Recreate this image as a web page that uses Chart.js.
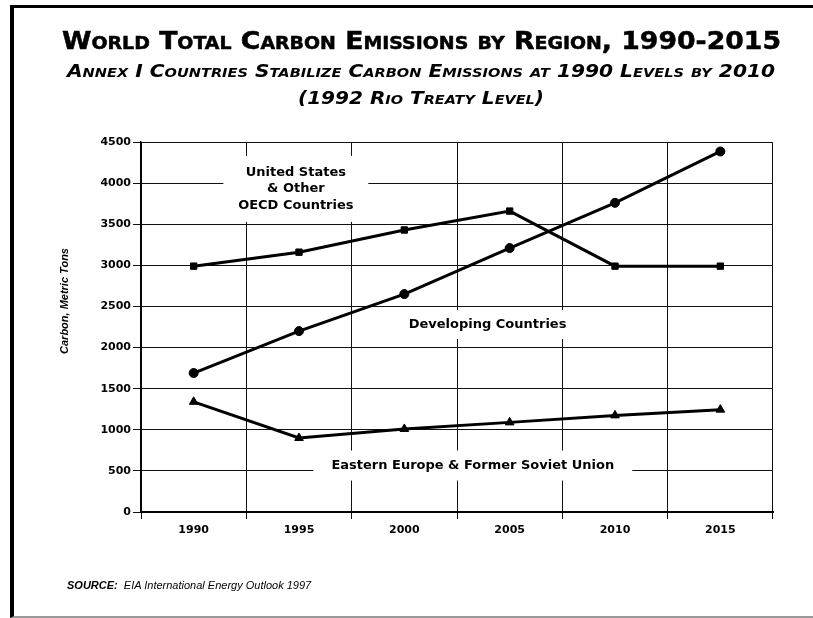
<!DOCTYPE html>
<html>
<head>
<meta charset="utf-8">
<script src="https://cdn.jsdelivr.net/npm/chart.js@4"></script>
<style>
    html, body { margin: 0; padding: 0; background: #fff; }
    #page { position: relative; width: 813px; height: 618px; overflow: hidden; }
    #frame {
        position: absolute; left: 10px; top: 5px; width: 860px; height: 608px;
        border-left: 4px solid #000; border-top: 3px solid #000; border-bottom: 2px solid #999;
    }
    #chartBox { position: absolute; left: 0; top: 0; width: 813px; height: 618px; }
    .txt {
        position: absolute; white-space: nowrap; color: #000; line-height: 1;
        transform-origin: left top;
    }
    #title { font: bold 24px 'DejaVu Sans', sans-serif; font-variant: small-caps; -webkit-text-stroke: 0.5px #000; }
    .sub { font: italic bold 18px 'DejaVu Sans', sans-serif; font-variant: small-caps; }
    #source { font: italic 11px 'Liberation Sans', Arial, sans-serif; left: 67px; top: 579px; }
    #source b { font-weight: bold; }
</style>
</head>
<body>
<div id="page">
    <div id="frame"></div>
    <div id="chartBox"><canvas id="grafico-carbono"></canvas></div>
    <div class="txt" id="title" data-w="719" data-base="47">World Total Carbon Emissions by Region, 1990-2015</div>
    <div class="txt sub" id="sub1" data-w="708" data-base="75">Annex I Countries Stabilize Carbon Emissions at 1990 Levels by 2010</div>
    <div class="txt sub" id="sub2" data-w="246" data-base="102">(1992 Rio Treaty Level)</div>
    <div class="txt" id="source"><b>SOURCE:</b>&nbsp; EIA International Energy Outlook 1997</div>
</div>
<script>
// dados (milhões de toneladas de carbono)
const years = ['1990', '1995', '2000', '2005', '2010', '2015'];
const oecdValues = [2990, 3160, 3430, 3660, 2990, 2990];
const developingValues = [1690, 2200, 2650, 3210, 3760, 4385];
const easternValues = [1340, 900, 1010, 1090, 1175, 1245];
const yMin = 0;
const yMax = 4500;
const yStep = 500;
const oecdLabel = ['United States', '& Other', 'OECD Countries'];
const developingLabel = ['Developing Countries'];
const easternLabel = ['Eastern Europe & Former Soviet Union'];
const yTitle = 'Carbon, Metric Tons';

// ajusta os títulos em HTML à largura do original
const centerX = 421;
document.querySelectorAll('.txt[data-w]').forEach(function (el) {
    const target = +el.dataset.w;
    const natural = el.getBoundingClientRect().width;
    const fs = parseFloat(getComputedStyle(el).fontSize);
    el.style.left = (centerX - target / 2) + 'px';
    el.style.top = (+el.dataset.base - fs * 0.82) + 'px';
    el.style.transform = 'scaleX(' + (target / natural) + ')';
});

const FONT = "'DejaVu Sans', sans-serif";

// rótulos com caixa branca por cima da grade
const labelBoxes = {
    id: 'labelBoxes',
    beforeDatasetsDraw(chart, args, opts) {
        const { ctx } = chart;
        const x = chart.scales.x;
        const y = chart.scales.y;
        ctx.save();
        ctx.font = 'bold 13px ' + FONT;
        ctx.textAlign = 'center';
        ctx.textBaseline = 'middle';
        opts.items.forEach(function (item) {
            const cx = x.getPixelForValue(item.at[0]);
            const cy = y.getPixelForValue(item.at[1]);
            ctx.fillStyle = '#fff';
            ctx.fillRect(cx - item.w / 2, cy - item.h / 2, item.w, item.h);
            ctx.fillStyle = '#000';
            const n = item.lines.length;
            item.lines.forEach(function (line, i) {
                ctx.fillText(line, cx, cy + (i - (n - 1) / 2) * 16.5);
            });
        });
        ctx.restore();
    },
    afterDraw(chart) {
        const { ctx } = chart;
        ctx.save();
        ctx.translate(65, 301);
        ctx.rotate(-Math.PI / 2);
        ctx.font = "italic bold 11px 'Liberation Sans', Arial, sans-serif";
        ctx.textAlign = 'center';
        ctx.textBaseline = 'middle';
        ctx.fillStyle = '#000';
        ctx.fillText(yTitle, 0, 0);
        ctx.restore();
    }
};

const ctx = document.getElementById('grafico-carbono').getContext('2d');

new Chart(ctx, {
    type: 'line',
    data: {
        labels: years,
        datasets: [
            {
                label: oecdLabel.join(' '),
                data: oecdValues,
                pointStyle: 'rect',
                pointRadius: 4.5
            },
            {
                label: developingLabel[0],
                data: developingValues,
                pointStyle: 'circle',
                pointRadius: 4.5
            },
            {
                label: easternLabel[0],
                data: easternValues,
                pointStyle: 'triangle',
                pointRadius: 5
            }
        ].map(function (ds) {
            return Object.assign(ds, {
                borderColor: '#000',
                backgroundColor: '#000',
                pointBackgroundColor: '#000',
                pointBorderColor: '#000',
                pointBorderWidth: 1,
                borderWidth: 3,
                tension: 0,
                fill: false
            });
        })
    },
    options: {
        responsive: true,
        maintainAspectRatio: false,
        animation: false,
        layout: { padding: { left: 57, right: 40, top: 142, bottom: 0 } },
        plugins: {
            legend: { display: false },
            tooltip: { enabled: false },
            labelBoxes: {
                items: [
                    { lines: oecdLabel, at: [0.97, 3930], w: 145, h: 66 },
                    { lines: developingLabel, at: [2.79, 2280], w: 180, h: 29 },
                    { lines: easternLabel, at: [2.65, 565], w: 319, h: 30 }
                ]
            }
        },
        scales: {
            x: {
                offset: true,
                grid: {
                    offset: true,
                    color: '#111',
                    lineWidth: 1,
                    tickLength: 7
                },
                border: { color: '#000', width: 2 },
                ticks: {
                    color: '#000',
                    padding: 5,
                    font: { size: 11, weight: 'bold', family: FONT }
                },
                afterFit: function (scale) { scale.height = 106; }
            },
            y: {
                min: yMin,
                max: yMax,
                grid: {
                    color: '#111',
                    lineWidth: 1,
                    tickLength: 8
                },
                border: { color: '#000', width: 1.5 },
                ticks: {
                    stepSize: yStep,
                    color: '#000',
                    padding: 2,
                    font: { size: 11, weight: 'bold', family: FONT },
                    callback: function (value) { return String(value); }
                },
                afterFit: function (scale) { scale.width = 84; }
            }
        }
    },
    plugins: [labelBoxes]
});
</script>
</body>
</html>
